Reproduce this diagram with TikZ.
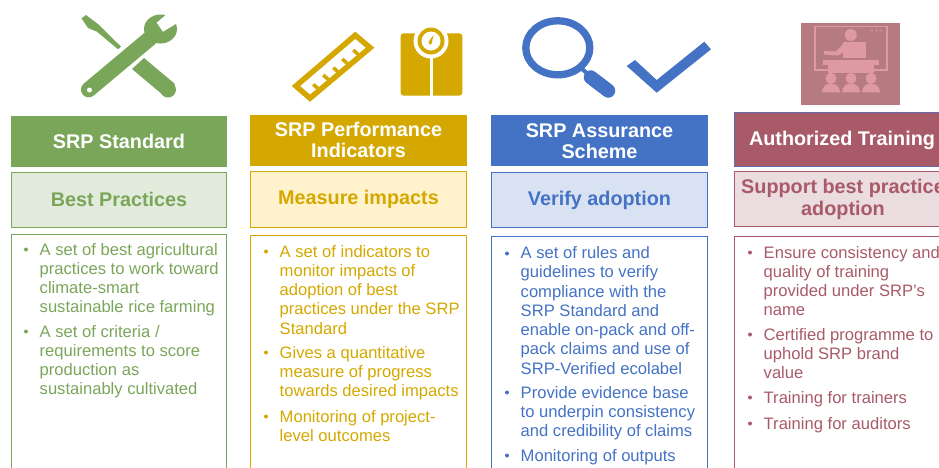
\documentclass[tikz,border=0pt]{standalone}
\usepackage{fontspec}
\setmainfont{Liberation Sans}
\definecolor{cG}{HTML}{7AA65A}
\definecolor{cY}{HTML}{D4A800}
\definecolor{cB}{HTML}{4472C4}
\definecolor{cR}{HTML}{A85A69}
\definecolor{lG}{HTML}{E2EBDC}
\definecolor{lY}{HTML}{FFF2CC}
\definecolor{lB}{HTML}{D9E2F3}
\definecolor{lR}{HTML}{EBDCDF}
\definecolor{tbg}{HTML}{B57B81}
\definecolor{tfg}{HTML}{DE99A3}
\tikzset{
 headtext/.style={text=white,font=\fontsize{19.8}{21.5}\selectfont\bfseries,align=center},
 sub/.style={font=\fontsize{19.8}{22}\selectfont\bfseries,align=center},
 item/.style={font=\fontsize{16.6}{19.25}\selectfont,align=left,anchor=north west,inner sep=0pt},
 dot/.style={circle,fill=#1,inner sep=0pt,minimum size=4pt}
}
\begin{document}
\begin{tikzpicture}[x=1pt,y=-1pt]
\useasboundingbox (0,0) rectangle (939,467);
\clip (0,0) rectangle (939,467);
% Column 1
\fill[cG] (11,116) rectangle (227,167);
\filldraw[draw=cG,fill=lG] (11.5,172.5) rectangle (226.5,227.5);
\draw[cG] (11.5,234.5) rectangle (226.5,480);
\node[headtext] (h1) at (119,141.5) {SRP Standard};
\node[sub,text=cG] (s1) at (119,199.5) {Best Practices};
\node[dot=cG] (b11) at (26,249.5) {};
\node[item,text=cG] (t11) at (39.5,243) {A set of best agricultural\\practices to work toward\\climate-smart\\sustainable rice farming};
\node[dot=cG] (b12) at (26,331.5) {};
\node[item,text=cG] (t12) at (39.5,325) {A set of criteria /\\requirements to score\\production as\\sustainably cultivated};
% Column 2
\fill[cY] (250,115) rectangle (467,166);
\filldraw[draw=cY,fill=lY] (250.5,171.5) rectangle (466.5,227.5);
\draw[cY] (250.5,235.5) rectangle (466.5,480);
\node[headtext] (h2) at (358.5,140) {SRP Performance\\Indicators};
\node[sub,text=cY] (s2) at (358.5,199.7) {Measure impacts};
\node[dot=cY] (b21) at (266,251.5) {};
\node[item,text=cY] (t21) at (279.5,245) {A set of indicators to\\monitor impacts of\\adoption of best\\practices under the SRP\\Standard};
\node[dot=cY] (b22) at (266,352.5) {};
\node[item,text=cY] (t22) at (279.5,346) {Gives a quantitative\\measure of progress\\towards desired impacts};
\node[dot=cY] (b23) at (266,416.5) {};
\node[item,text=cY] (t23) at (279.5,410) {Monitoring of project-\\level outcomes};
% Column 3
\fill[cB] (491,115) rectangle (708,166);
\filldraw[draw=cB,fill=lB] (491.5,172.5) rectangle (707.5,227.5);
\draw[cB] (491.5,236.5) rectangle (707.5,480);
\node[headtext] (h3) at (599.5,141) {SRP Assurance\\Scheme};
\node[sub,text=cB] (s3) at (599.5,200.2) {Verify adoption};
\node[dot=cB] (b31) at (507,253.5) {};
\node[item,text=cB] (t31) at (520.5,246.5) {A set of rules and\\guidelines to verify\\compliance with the\\SRP Standard and\\enable on-pack and off-\\pack claims and use of\\SRP-Verified ecolabel};
\node[dot=cB] (b32) at (507,392.5) {};
\node[item,text=cB] (t32) at (520.5,386) {Provide evidence base\\to underpin consistency\\and credibility of claims};
\node[dot=cB] (b33) at (507,455.5) {};
\node[item,text=cB] (t33) at (520.5,449) {Monitoring of outputs};
% Column 4
\filldraw[draw=cB!70!cR,fill=cR] (734.5,112.5) rectangle (945,166);
\filldraw[draw=cR,fill=lR] (734.5,171.5) rectangle (945,226.5);
\draw[cR] (734.5,236.5) rectangle (945,480);
\node[headtext,anchor=west] (h4) at (745.5,140) {Authorized Training};
\node[sub,text=cR] (s4) at (843,199.5) {Support best practice\\adoption};
\node[dot=cR] (b41) at (750,252.5) {};
\node[item,text=cR] (t41) at (763.5,246) {Ensure consistency and\\quality of training\\provided under SRP’s\\name};
\node[dot=cR] (b42) at (750,334.5) {};
\node[item,text=cR] (t42) at (763.5,328) {Certified programme to\\uphold SRP brand\\value};
\node[dot=cR] (b43) at (750,397.5) {};
\node[item,text=cR] (t43) at (763.5,391) {Training for trainers};
\node[dot=cR] (b44) at (750,423.5) {};
\node[item,text=cR] (t44) at (763.5,417) {Training for auditors};
% Tools icon
\fill[cG] (81.5,18.3) -- (86,15) -- (98,24) -- (121,46.7) -- (118,49.3) -- (97,31.7) -- (88,28) -- cycle;
\fill[cG] (144,58) -- (175,84) -- (163,95) -- (132,69) -- cycle;
\fill[cG] (168,89.5) circle[radius=8];
\draw[cG,line width=15.5pt,line cap=round] (88.7,89.6) -- (150,38.3);
\fill[cG] (160.5,29) ellipse[x radius=16.5,y radius=14.5];
\fill[white] (165.7,15) -- (156.7,22.7) -- (163,31.7) -- (175.7,24) -- (182,10) -- (165.7,10) -- cycle;
\fill[white] (89.5,90) circle[radius=2.5];
% Ruler
\draw[cY,line width=5.5pt,miter limit=10] (355.3,35.25) -- (370.1,47.7) -- (310,98.15) -- (295.9,86) -- cycle;
\foreach \a/\b in {313.3/84.3,323.3/75,333.3/67.7,342.3/59,353.3/50}
  \draw[cY,line width=3.5pt] (\a,\b) -- ++(6.7,6);
% Scale
\fill[cY,rounded corners=3pt] (400.7,33.3) rectangle (462.3,95.7);
\fill[white] (431,41) circle[radius=17.5];
\fill[white] (430.3,56) rectangle (433,95.7);
\fill[cY] (431,41) circle[radius=13.5];
\fill[white] (431,41) circle[radius=9.5];
\fill[cY] (433.5,35) -- (428.5,42) -- (429.5,44.5) -- (431.5,44) -- cycle;
% Magnifier
\draw[cB,line width=7.3pt] (557.8,47.8) ellipse[x radius=32,y radius=27];
\draw[cB,line width=4pt] (581,68) -- (590,76);
\draw[cB,line width=14pt,line cap=round] (590.7,77.3) -- (608.3,90.7);
% Check
\fill[cB] (626.7,66) -- (635,60) -- (656.7,80) -- (704.3,41.7) -- (711,49.3) -- (656.7,92.7) -- cycle;
% Trainer
\fill[tbg] (801,23) rectangle (900,105);
\draw[tfg,line width=1.3pt] (815,26.5) rectangle (887,70);
\fill[tfg] (850.7,35) circle[radius=6];
\fill[tfg] (843,41.7) rectangle (866,58);
\fill[tfg] (824,51) -- (836,51.5) -- (845,42) -- (848,50) -- (838,55.5) -- (824,54.5) -- cycle;
\fill[tfg] (823.3,60) rectangle (879,65);
\fill[tfg] (828,65) rectangle (874,72.7);
\foreach \p in {831,851,871}{
  \fill[tfg] (\p,78.3) circle[radius=5.5];
  \fill[tfg] (\p-9,92.3) arc[start angle=180,end angle=360,radius=9] -- cycle;
}
\foreach \p in {872,876.5,881} \fill[tfg] (\p,30.5) circle[radius=0.9];
\end{tikzpicture}
\end{document}
